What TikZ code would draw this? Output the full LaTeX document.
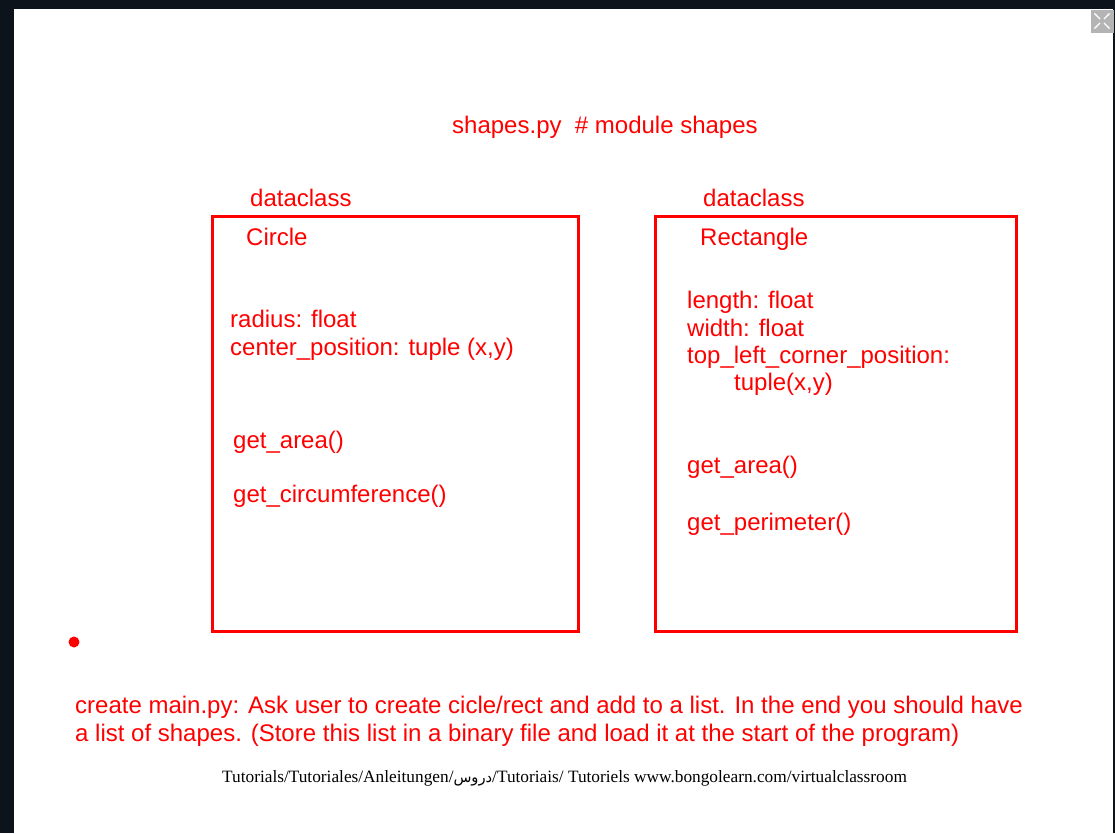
\documentclass[tikz,border=0pt]{standalone}
\usepackage{fontspec}
\usetikzlibrary{arrows.meta}
\setmainfont{Liberation Sans}
\newfontfamily\footfont{Liberation Serif}
\newfontfamily\arabicfont[Script=Arabic,Scale=0.85]{DejaVu Sans}
\TeXXeTstate=1
\definecolor{frame}{HTML}{0C131B}
\definecolor{iconbg}{HTML}{B4B4B4}

\begin{document}
\begin{tikzpicture}
  [x=1pt,y=-1pt,
   lbl/.style={text=red, inner sep=0, anchor=base west, font=\fontsize{24}{28}\selectfont},
   box/.style={draw=red, line width=2.5pt, inner sep=0, anchor=north west}]
  \useasboundingbox (0,0) rectangle (1115,833);
  % dark frame of the viewer
  \fill[frame] (0,0) rectangle (1115,9);
  \fill[frame] (0,0) rectangle (14,833);
  \fill[frame] (1113,0) rectangle (1115,833);
  \node[fill=iconbg, inner sep=0, minimum size=23pt] (icon) at (1102,21) {};
  \foreach \dx/\dy in {-1/-1, 1/-1, -1/1, 1/1}
    \draw[white, line width=1.3pt, -{Stealth[length=3pt]}] ([shift={(\dx*2,\dy*2)}]icon.center) -- ([shift={(\dx*8,\dy*8)}]icon.center);

  \node[lbl] (title) at (452,133) {shapes.py\ \ \# module shapes};

  \node[box, minimum width=366pt, minimum height=415pt] (circbox) at (211,215) {};
  \node[box, minimum width=361pt, minimum height=415pt] (rectbox) at (654,215) {};

  \node[lbl] (dc1) at (250,206) {dataclass};
  \node[lbl] (circ) at (246,245) {Circle};
   \node[lbl] (radius) at (230,327) {radius: float};
   \node[lbl] (center) at (230,355) {center\_position: tuple (x,y)};
   \node[lbl] (carea) at (233,448) {get\_area()};
   \node[lbl] (ccirc) at (233,502) {get\_circumference()};

  \node[lbl] (dc2) at (703,206) {dataclass};
  \node[lbl] (rect) at (700,245) {Rectangle};
   \node[lbl] (length) at (687,308) {length: float};
   \node[lbl] (width) at (687,336) {width: float};
   \node[lbl] (corner) at (687,363) {top\_left\_corner\_position:};
   \node[lbl] (tuple) at (734,390) {tuple(x,y)};
   \node[lbl] (rarea) at (687,473) {get\_area()};
   \node[lbl] (rperim) at (687,530) {get\_perimeter()};

  \node[circle, fill=red, inner sep=0, minimum size=11pt] (dot) at (74,642) {};

  \node[lbl, align=left, font=\fontsize{24}{28}\selectfont] (task) at (75,741)
    {create main.py: Ask user to create cicle/rect and add to a list. In the end you should have\\
     a list of shapes. (Store this list in a binary file and load it at the start of the program)};

  \node[inner sep=0, anchor=base west, font=\footfont\fontsize{17.3}{20}\selectfont] (foot) at (222,782)
    {Tutorials/Tutoriales/Anleitungen/{\arabicfont\beginR دروس\endR}/Tutoriais/ Tutoriels www.bongolearn.com/virtualclassroom};
\end{tikzpicture}
\end{document}
